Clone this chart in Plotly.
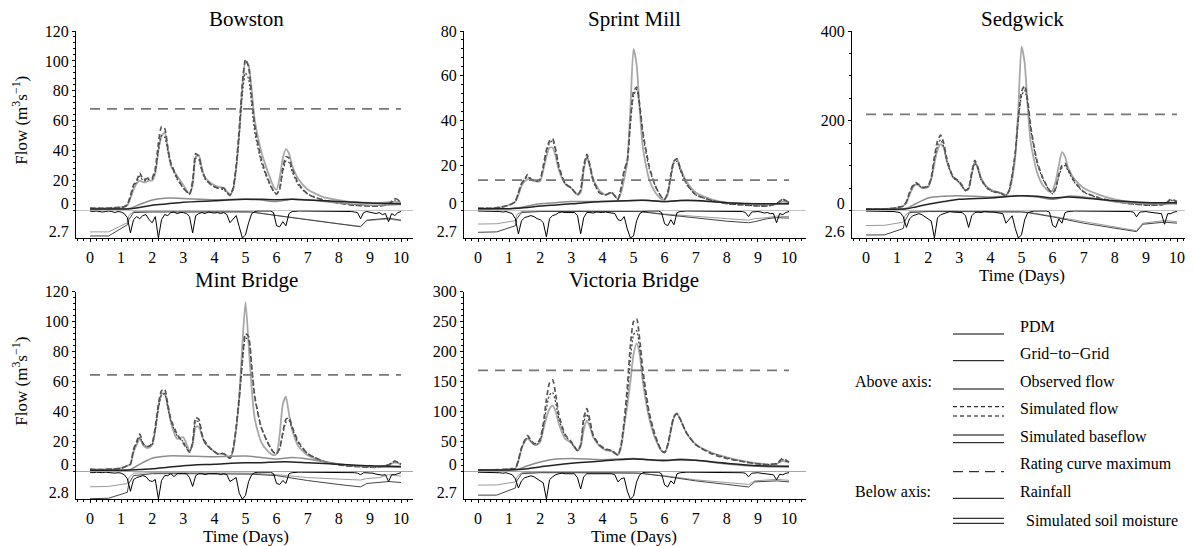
import plotly.graph_objects as go

FONT = "Liberation Serif, 'Times New Roman', Times, serif"
PAGE_W, PAGE_H = 1193, 546
OFF = 8  # default page margin of the html body
W, H = PAGE_W - OFF, PAGE_H - OFF

# ---------------- data ----------------
STATIONS = ["Bowston", "Sprint Mill", "Sedgwick", "Mint Bridge", "Victoria Bridge"]
Y_MAX = [120, 80, 400, 120, 300]
Y_TICKS = [
    [20, 40, 60, 80, 100, 120],
    [20, 40, 60, 80],
    [200, 400],
    [20, 40, 60, 80, 100, 120],
    [50, 100, 150, 200, 250, 300],
]
Y_MINOR = [4, 4, 50, 4, 10]
RAIN_MAX = [2.7, 2.7, 2.6, 2.8, 2.7]
RATING_MAX = [68, 13.5, 214, 64.5, 169]
X_TICKS = [0, 1, 2, 3, 4, 5, 6, 7, 8, 9, 10]

DAYS = [0, 0.5, 0.9, 1.1, 1.2, 1.3, 1.4, 1.5, 1.6, 1.7, 1.8, 1.9, 2.0, 2.1, 2.2, 2.3,
        2.4, 2.5, 2.6, 2.8, 3.0, 3.2, 3.3, 3.4, 3.5, 3.6, 3.7, 3.9, 4.1, 4.3, 4.5, 4.6,
        4.7, 4.8, 4.9, 5.0, 5.1, 5.2, 5.3, 5.5, 5.7, 5.9, 6.0, 6.1, 6.2, 6.3, 6.4, 6.5,
        6.7, 7.0, 7.5, 8.0, 8.5, 9.0, 9.3, 9.6, 9.8, 10.0]
BASE_DAYS = [0, 1.0, 1.3, 1.6, 2.0, 2.5, 3.0, 4.0, 5.0, 5.5, 6.0, 6.5, 7.0, 8.0, 9.0, 10.0]
SM_DAYS = [0, 0.6, 1.2, 1.25, 1.4, 2.0, 3.0, 4.0, 5.0, 5.2, 6.0, 7.0, 8.0, 8.7, 8.9, 9.3, 9.6, 10.0]
RAIN_DAYS = [round(0.1 * i, 1) for i in range(101)]

# Bowston
BOW_PDM = [1.5, 1.5, 2, 2.5, 4, 10, 17, 20, 25, 21, 21, 22, 22, 28, 45, 56, 55, 42, 32, 22, 15, 11, 20, 38, 36, 27, 22, 17, 15, 15, 10, 15, 30, 55, 85, 101, 96, 76, 56, 35, 22, 13, 11, 15, 28, 36, 35, 28, 18, 11, 7, 5, 3.5, 3, 3, 4, 8, 6]
BOW_OBS = [1.5, 1.5, 2, 2.5, 3.5, 8, 14, 18, 20, 19, 19, 20, 20, 25, 40, 50, 52, 42, 30, 23, 17, 11, 17, 36, 37, 28, 22, 18, 16, 15, 11, 14, 28, 52, 83, 100, 97, 80, 60, 40, 27, 16, 14, 22, 35, 41, 38, 30, 21, 14, 9, 7, 5.5, 5, 5, 5.5, 6, 5.5]
BOW_G2G = [1.5, 1.5, 2, 2.5, 4, 9, 16, 19, 23, 20, 20, 21, 21, 26, 40, 50, 49, 40, 31, 21, 15, 11, 18, 35, 34, 26, 21, 17, 15, 14, 10, 14, 28, 50, 78, 92, 88, 70, 52, 33, 21, 13, 11, 14, 26, 33, 32, 26, 17, 11, 7, 5, 3.5, 3, 3, 4, 7, 6]
BOW_BASE_G2G = [1, 1, 1.5, 4, 7, 8.3, 8, 7.2, 7.5, 7, 6, 7.5, 7.2, 5, 3.5, 4]
BOW_BASE_PDM = [1, 1, 1.2, 2, 3.5, 4.5, 5.5, 6.5, 7.5, 7.5, 7.2, 7.5, 7, 6, 5, 4.5]
BOW_SM_PDM = [2.5, 2.5, 1.4, 0.9, 0.2, 0.15, 0.15, 0.15, 0.15, 0.15, 0.5, 0.9, 1.3, 1.6, 0.95, 0.85, 0.75, 0.95]
BOW_SM_G2G = [2.1, 2.1, 1.2, 0.5, 0.1, 0.05, 0.05, 0.05, 0.1, 0.15, 0.5, 0.9, 1.3, 1.55, 1.0, 0.9, 0.85, 1.0]
BOW_RAIN = [0.05, 0.1, 0.05, 0.1, 0.15, 0.1, 0.05, 0.1, 0.2, 0.1,
            0.15, 0.3, 0.7, 2.2, 0.9, 0.6, 0.8, 0.5, 0.4, 0.9,
            1.2, 0.6, 2.7, 0.9, 0.4, 0.5, 0.2, 0.15, 0.3, 0.2,
            0.2, 0.3, 0.6, 2.2, 0.5, 0.3, 0.2, 0.3, 0.15, 0.2,
            0.25, 0.2, 0.3, 0.2, 0.4, 1.2, 0.9, 0.5, 1.6, 2.7,
            2.4, 1.2, 0.3, 0.1, 0.05, 0.05, 0.05, 0.1, 0.05, 0.2,
            1.5, 1.6, 1.1, 1.5, 0.3, 0.1, 0.05, 0.05, 0.05, 0.05,
            0.05, 0.1, 0.05, 0.05, 0.05, 0.05, 0.1, 0.05, 0.05, 0.05,
            0.05, 0.05, 0.1, 0.05, 0.1, 0.15, 0.2, 0.8, 0.2, 0.1,
            0.15, 0.2, 0.3, 0.2, 0.4, 0.3, 1.1, 0.3, 0.5, 0.2,
            0.1]

# Sprint Mill
SPR_PDM = [1, 1, 2, 3, 4, 8, 12, 14, 16, 14, 13.5, 13, 14, 20, 27, 31, 32, 27, 20, 12, 10, 7, 9, 20, 25, 20, 14, 8, 7, 8, 5, 10, 18, 22, 40, 53, 55, 47, 35, 20, 11, 6, 5, 8, 16, 22, 23, 19, 12, 7, 4.5, 3, 2.5, 2, 2, 3, 5, 3.5]
SPR_OBS = [1, 1, 2, 3, 4, 7, 11, 13, 14, 14, 13, 13, 13, 18, 24, 28, 28, 24, 18, 12, 10, 7, 8, 18, 24, 20, 14, 9, 7, 8, 5, 8, 14, 22, 45, 72, 65, 45, 28, 14, 8, 5, 5, 7, 15, 22, 23, 19, 13, 8, 5, 3.5, 3, 2.5, 2.5, 3, 4, 3.5]
SPR_G2G = [1, 1, 2, 3, 4, 8, 12, 14, 15, 14, 13.5, 13, 14, 19, 26, 30, 31, 26, 19, 12, 10, 7, 9, 19, 24, 19, 13, 8, 7, 8, 5, 10, 17, 22, 38, 51, 54, 46, 34, 19, 11, 6, 5, 8, 15, 21, 22, 18, 12, 7, 4.5, 3, 2.5, 2, 2, 3, 5, 3.5]
SPR_BASE_G2G = [0.8, 0.8, 1.2, 2, 3, 3.5, 4, 4, 4.5, 4.5, 4, 4.5, 4.3, 3.5, 3, 3]
SPR_BASE_PDM = [0.8, 0.8, 1, 1.3, 2, 2.5, 3, 4, 4.5, 4.5, 4, 4.5, 4.5, 3.5, 3, 3]
SPR_SM_PDM = [2.14, 2.1, 1.5, 0.8, 0.2, 0.1, 0.1, 0.1, 0.1, 0.1, 0.4, 0.75, 1.05, 1.2, 1.1, 0.8, 0.7, 0.75]
SPR_SM_G2G = [1.33, 1.3, 1.0, 0.4, 0.1, 0.05, 0.05, 0.05, 0.05, 0.1, 0.35, 0.6, 0.8, 0.95, 0.8, 0.7, 0.55, 0.6]
SPR_RAIN = [0.05, 0.05, 0.1, 0.05, 0.1, 0.1, 0.05, 0.1, 0.15, 0.1,
            0.2, 0.3, 0.8, 2.3, 1.0, 0.7, 0.6, 0.5, 0.6, 0.8,
            0.9, 1.2, 2.6, 0.8, 0.5, 0.4, 0.2, 0.15, 0.2, 0.2,
            0.15, 0.2, 0.5, 2.3, 0.7, 0.2, 0.2, 0.25, 0.15, 0.2,
            0.2, 0.15, 0.2, 0.25, 0.3, 0.9, 1.0, 0.6, 1.8, 2.7,
            2.5, 1.0, 0.3, 0.1, 0.05, 0.05, 0.05, 0.05, 0.05, 0.2,
            1.3, 1.5, 0.9, 1.4, 0.2, 0.1, 0.05, 0.05, 0.05, 0.05,
            0.05, 0.05, 0.05, 0.1, 0.05, 0.05, 0.05, 0.05, 0.05, 0.05,
            0.05, 0.05, 0.05, 0.1, 0.05, 0.1, 0.2, 0.6, 0.15, 0.1,
            0.1, 0.15, 0.25, 0.2, 0.3, 0.3, 1.2, 0.3, 0.4, 0.2,
            0.1]

# Sedgwick
SED_PDM = [3, 3, 5, 8, 10, 20, 40, 55, 62, 58, 52, 52, 55, 75, 120, 155, 168, 150, 115, 75, 65, 45, 50, 85, 112, 95, 70, 50, 42, 40, 33, 45, 80, 130, 210, 265, 278, 245, 185, 110, 70, 45, 38, 50, 80, 100, 105, 92, 65, 42, 28, 20, 15, 12, 12, 14, 25, 20]
SED_OBS = [3, 3, 5, 8, 10, 18, 35, 50, 58, 56, 50, 50, 52, 70, 105, 135, 148, 140, 110, 75, 62, 45, 48, 80, 108, 95, 72, 52, 44, 40, 35, 42, 70, 120, 230, 365, 330, 230, 150, 85, 55, 42, 45, 65, 100, 130, 120, 95, 70, 50, 35, 25, 19, 15, 14, 14, 18, 15]
SED_G2G = [3, 3, 5, 8, 10, 19, 38, 53, 60, 56, 51, 51, 54, 72, 112, 145, 158, 142, 110, 73, 63, 44, 49, 82, 106, 92, 68, 49, 41, 39, 33, 44, 78, 125, 200, 255, 268, 238, 180, 106, 68, 44, 37, 48, 76, 95, 100, 88, 63, 41, 27, 20, 15, 12, 12, 14, 23, 19]
SED_BASE_G2G = [3, 3, 5, 15, 28, 32, 33, 30, 33, 30, 25, 32, 30, 20, 15, 15]
SED_BASE_PDM = [3, 3, 4, 8, 14, 20, 25, 28, 33, 32, 28, 30, 28, 22, 18, 17]
SED_SM_PDM = [2.32, 2.3, 1.7, 1.0, 0.2, 0.1, 0.1, 0.1, 0.15, 0.2, 0.6, 1.2, 1.7, 2.0, 1.3, 1.15, 1.1, 1.2]
SED_SM_G2G = [1.42, 1.4, 1.1, 0.5, 0.1, 0.05, 0.05, 0.05, 0.1, 0.15, 0.55, 1.1, 1.6, 1.9, 1.2, 1.05, 0.95, 1.05]
SED_RAIN = [0.05, 0.05, 0.05, 0.1, 0.05, 0.1, 0.05, 0.05, 0.1, 0.1,
            0.15, 0.2, 0.6, 1.6, 0.8, 0.5, 0.4, 0.3, 0.4, 0.6,
            0.8, 1.0, 2.6, 0.7, 0.4, 0.3, 0.2, 0.1, 0.15, 0.15,
            0.15, 0.2, 0.5, 1.6, 0.5, 0.2, 0.15, 0.2, 0.1, 0.15,
            0.15, 0.15, 0.2, 0.2, 0.3, 1.2, 0.8, 0.5, 1.7, 2.6,
            2.3, 0.9, 0.2, 0.1, 0.05, 0.05, 0.05, 0.05, 0.05, 0.15,
            1.4, 1.6, 0.8, 1.2, 0.2, 0.1, 0.05, 0.05, 0.05, 0.05,
            0.05, 0.05, 0.1, 0.05, 0.05, 0.05, 0.05, 0.1, 0.05, 0.05,
            0.05, 0.05, 0.05, 0.05, 0.1, 0.1, 0.15, 0.6, 0.15, 0.1,
            0.1, 0.15, 0.2, 0.2, 0.3, 0.3, 1.3, 0.3, 0.3, 0.15,
            0.1]

# Mint Bridge
MIN_PDM = [1.5, 1.5, 2, 3, 4, 5, 15, 20, 25, 19, 17, 17, 19, 30, 45, 54, 55, 45, 35, 25, 19, 13, 20, 36, 35, 25, 20, 15, 12, 12, 9, 15, 30, 50, 75, 92, 90, 70, 50, 30, 20, 13, 12, 16, 26, 35, 36, 30, 20, 12, 7, 4.5, 3.5, 3, 3, 4.5, 7, 5]
MIN_OBS = [1.5, 1.5, 2, 3, 4, 5, 13, 18, 22, 18, 16, 16, 18, 28, 43, 52, 52, 44, 33, 22, 23, 14, 18, 30, 30, 24, 19, 15, 12, 12, 9, 14, 28, 50, 85, 113, 85, 55, 35, 20, 14, 11, 12, 25, 45, 50, 38, 28, 17, 11, 7, 5, 4, 3.5, 3.5, 4.5, 6, 5]
MIN_G2G = [1.5, 1.5, 2, 3, 4, 5, 14, 19, 23, 19, 17, 17, 18, 28, 42, 51, 52, 43, 34, 24, 20, 13, 19, 34, 33, 24, 19, 15, 12, 12, 9, 15, 29, 48, 72, 89, 88, 69, 49, 30, 20, 13, 12, 15, 25, 33, 34, 29, 19, 12, 7, 4.5, 3.5, 3, 3, 4.5, 7, 5]
MIN_BASE_G2G = [1, 1, 1.5, 5, 9, 10.5, 10.5, 10, 10.5, 9.5, 8.5, 9.5, 8.5, 5, 3.5, 3]
MIN_BASE_PDM = [1, 1, 1.2, 1.5, 2, 3, 4, 5, 6, 6, 6.5, 6.5, 6, 5, 4, 3.5]
MIN_SM_PDM = [2.75, 2.7, 2.1, 1.2, 0.4, 0.2, 0.2, 0.2, 0.2, 0.25, 0.4, 0.9, 1.3, 1.55, 1.2, 1.1, 1.0, 1.1]
MIN_SM_G2G = [1.54, 1.5, 1.2, 0.6, 0.15, 0.1, 0.1, 0.1, 0.1, 0.15, 0.3, 0.6, 0.75, 0.85, 0.7, 0.6, 0.3, 0.45]
MIN_RAIN = [0.05, 0.1, 0.05, 0.1, 0.1, 0.05, 0.1, 0.1, 0.15, 0.1,
            0.15, 0.3, 0.7, 2.0, 0.8, 0.6, 0.5, 0.4, 0.5, 0.9,
            1.0, 0.8, 2.8, 0.9, 0.4, 0.4, 0.2, 0.5, 0.2, 0.2,
            0.2, 0.2, 0.6, 1.5, 0.4, 0.2, 0.2, 0.3, 0.2, 0.2,
            0.2, 0.2, 0.3, 0.2, 0.3, 1.0, 0.8, 0.6, 2.2, 2.8,
            2.4, 1.0, 0.3, 0.1, 0.05, 0.05, 0.05, 0.1, 0.05, 0.2,
            1.2, 1.3, 0.9, 1.2, 0.2, 0.1, 0.05, 0.05, 0.05, 0.05,
            0.05, 0.05, 0.1, 0.05, 0.05, 0.05, 0.05, 0.05, 0.05, 0.05,
            0.05, 0.05, 0.05, 0.1, 0.05, 0.1, 0.15, 0.3, 0.1, 0.1,
            0.1, 0.15, 0.25, 0.3, 0.35, 0.3, 1.0, 0.3, 0.3, 0.2,
            0.1]

# Victoria Bridge
VIC_PDM = [3, 3, 4, 5, 5, 20, 40, 52, 60, 52, 47, 47, 55, 80, 120, 148, 153, 128, 95, 62, 50, 35, 45, 90, 105, 85, 62, 45, 38, 35, 28, 45, 85, 140, 210, 250, 255, 220, 170, 100, 60, 35, 32, 45, 70, 92, 97, 88, 65, 45, 30, 22, 17, 13, 12, 14, 22, 16]
VIC_OBS = [3, 3, 4, 5, 5, 18, 38, 50, 55, 50, 45, 45, 50, 70, 90, 105, 110, 100, 80, 55, 48, 35, 42, 70, 85, 75, 58, 43, 36, 34, 28, 40, 75, 110, 150, 195, 214, 195, 150, 90, 55, 35, 32, 43, 68, 90, 97, 88, 65, 46, 32, 24, 18, 14, 12, 13, 18, 15]
VIC_G2G = [3, 3, 4, 5, 5, 19, 39, 51, 58, 51, 46, 46, 52, 75, 105, 128, 132, 115, 88, 60, 49, 35, 44, 82, 96, 80, 60, 44, 37, 35, 28, 43, 80, 125, 185, 228, 235, 205, 160, 95, 58, 35, 32, 44, 69, 91, 96, 87, 65, 45, 31, 23, 17, 13, 12, 13, 20, 15]
VIC_BASE_G2G = [3, 3, 4, 10, 16, 21, 22, 20, 22, 20, 18, 21, 19, 13, 9, 8]
VIC_BASE_PDM = [3, 3, 3.5, 5, 8, 11, 14, 18, 21, 20, 19, 20, 19, 14, 10, 9]
VIC_SM_PDM = [2.3, 2.3, 1.6, 0.9, 0.2, 0.1, 0.1, 0.1, 0.1, 0.15, 0.45, 0.9, 1.25, 1.5, 1.0, 0.95, 0.9, 1.0]
VIC_SM_G2G = [1.32, 1.3, 1.0, 0.5, 0.1, 0.05, 0.05, 0.05, 0.1, 0.15, 0.4, 0.8, 1.1, 1.25, 0.9, 0.8, 0.75, 0.85]
VIC_RAIN = [0.05, 0.05, 0.1, 0.05, 0.1, 0.05, 0.05, 0.1, 0.15, 0.1,
            0.2, 0.3, 0.7, 1.6, 0.9, 0.6, 0.5, 0.4, 0.5, 0.7,
            0.9, 1.1, 2.7, 0.8, 0.5, 0.3, 0.2, 0.15, 0.2, 0.2,
            0.15, 0.2, 0.6, 1.7, 0.5, 0.2, 0.2, 0.2, 0.15, 0.2,
            0.2, 0.15, 0.2, 0.2, 0.3, 1.0, 0.7, 0.6, 1.9, 2.7,
            2.4, 1.0, 0.3, 0.1, 0.05, 0.05, 0.05, 0.05, 0.05, 0.2,
            1.3, 1.5, 0.9, 1.2, 0.2, 0.1, 0.05, 0.05, 0.05, 0.05,
            0.05, 0.05, 0.05, 0.1, 0.05, 0.05, 0.05, 0.05, 0.05, 0.05,
            0.05, 0.05, 0.05, 0.05, 0.1, 0.1, 0.15, 0.5, 0.15, 0.1,
            0.1, 0.15, 0.2, 0.2, 0.3, 0.3, 0.8, 0.25, 0.3, 0.15,
            0.1]

LEGEND_ITEMS = ["PDM", "Grid\u2212to\u2212Grid", "Observed flow", "Simulated flow",
                "Simulated baseflow", "Rating curve maximum", "Rainfall",
                "Simulated soil moisture"]

# ---------------- layout helpers ----------------
PANELS = [
    dict(obs=BOW_OBS, pdm=BOW_PDM, g2g=BOW_G2G, bg=BOW_BASE_G2G, bp=BOW_BASE_PDM,
         smp=BOW_SM_PDM, smg=BOW_SM_G2G, rain=BOW_RAIN, row=0, col=0),
    dict(obs=SPR_OBS, pdm=SPR_PDM, g2g=SPR_G2G, bg=SPR_BASE_G2G, bp=SPR_BASE_PDM,
         smp=SPR_SM_PDM, smg=SPR_SM_G2G, rain=SPR_RAIN, row=0, col=1),
    dict(obs=SED_OBS, pdm=SED_PDM, g2g=SED_G2G, bg=SED_BASE_G2G, bp=SED_BASE_PDM,
         smp=SED_SM_PDM, smg=SED_SM_G2G, rain=SED_RAIN, row=0, col=2),
    dict(obs=MIN_OBS, pdm=MIN_PDM, g2g=MIN_G2G, bg=MIN_BASE_G2G, bp=MIN_BASE_PDM,
         smp=MIN_SM_PDM, smg=MIN_SM_G2G, rain=MIN_RAIN, row=1, col=0),
    dict(obs=VIC_OBS, pdm=VIC_PDM, g2g=VIC_G2G, bg=VIC_BASE_G2G, bp=VIC_BASE_PDM,
         smp=VIC_SM_PDM, smg=VIC_SM_G2G, rain=VIC_RAIN, row=1, col=1),
]
PX_PER_DAY = 31.1
X_START = -0.45
COL_PX = [(76, 413), (464, 806), (852, PAGE_W)]
ROW_PX = [(31, 210.5, 238), (291.7, 471.7, 499.2)]
X_TITLE = [False, False, True, True, True]


def aid(letter, n):
    return letter if n == 1 else f"{letter}{n}"


def akey(letter, n):
    return f"{letter}axis" if n == 1 else f"{letter}axis{n}"


def py(px):
    return 1 - (px - OFF) / H


def pxx(px):
    return (px - OFF) / W


fig = go.Figure()
layout = {}
annotations = []
shapes = []
tickfont = dict(family=FONT, size=16, color="black")

for i, p in enumerate(PANELS):
    k = i + 1
    xid, fid, rid = aid("x", k), aid("y", 2 * k - 1), aid("y", 2 * k)
    c0, c1 = COL_PX[p["col"]]
    top, zero, bot = ROW_PX[p["row"]]

    def add(x, y, yref, **line):
        fig.add_trace(go.Scatter(x=x, y=y, xaxis=xid, yaxis=yref, mode="lines",
                                 showlegend=False, hoverinfo="skip", **line))

    # flows
    add(DAYS, p["obs"], fid, line=dict(color="#a8a8a8", width=1.8, shape="spline", smoothing=0.6))
    add(DAYS, p["g2g"], fid, line=dict(color="#3a3a3a", width=1.2, dash="2px,2px", shape="spline", smoothing=0.6))
    add(DAYS, p["pdm"], fid, line=dict(color="#555555", width=1.7, dash="5px,3px", shape="spline", smoothing=0.6))
    add(BASE_DAYS, p["bg"], fid, line=dict(color="#8c8c8c", width=1.5, shape="spline", smoothing=0.8))
    add(BASE_DAYS, p["bp"], fid, line=dict(color="#222222", width=1.5, shape="spline", smoothing=0.8))
    add([0, 10], [RATING_MAX[i], RATING_MAX[i]], fid, line=dict(color="#777777", width=1.8, dash="10px,7px"))
    # below axis
    add(SM_DAYS, p["smg"], rid, line=dict(color="#9a9a9a", width=1))
    add(SM_DAYS, p["smp"], rid, line=dict(color="#444444", width=1))
    add(RAIN_DAYS, p["rain"], rid, line=dict(color="black", width=1))

    x_end = X_START + (c1 - c0) / PX_PER_DAY
    layout[akey("x", k)] = dict(
        domain=[pxx(c0), min(1.0, pxx(c1))], anchor=rid, range=[X_START, x_end], automargin=False,
        tickmode="array", tickvals=X_TICKS, ticktext=[str(t) for t in X_TICKS],
        ticks="outside", ticklen=3, tickcolor="black", ticklabelstandoff=2,
        minor=dict(dtick=0.2, tick0=0, ticks="outside", ticklen=2, tickcolor="black"),
        showline=True, linecolor="black", linewidth=1, showgrid=False, zeroline=False,
        tickfont=tickfont,
    )
    layout[akey("y", 2 * k - 1)] = dict(
        domain=[py(zero), py(top)], anchor=xid, range=[0, Y_MAX[i]], automargin=False,
        tickmode="array", tickvals=Y_TICKS[i], ticktext=[str(t) for t in Y_TICKS[i]],
        ticks="outside", ticklen=3, tickcolor="black", ticklabelstandoff=0,
        minor=dict(dtick=Y_MINOR[i], tick0=0, ticks="outside", ticklen=2, tickcolor="black"),
        showline=True, linecolor="black", linewidth=1, showgrid=False, zeroline=False,
        tickfont=tickfont,
    )
    layout[akey("y", 2 * k)] = dict(
        domain=[py(bot), py(zero)], anchor=xid, range=[RAIN_MAX[i], 0], automargin=False,
        tickmode="array", tickvals=[0, RAIN_MAX[i]], ticktext=["0", str(RAIN_MAX[i])],
        ticks="", ticklabelstandoff=3, ticklabelshift=7,
        showline=True, linecolor="black", linewidth=1, showgrid=False, zeroline=False,
        tickfont=tickfont,
    )
    # zero line separating flow and rainfall
    shapes.append(dict(type="line", xref=f"{xid} domain", x0=0, x1=1, yref=fid, y0=0, y1=0,
                       line=dict(color="#8a8a8a", width=1.2), layer="below"))
    # panel title
    annotations.append(dict(text=STATIONS[i], xref="paper", yref="paper",
                            x=pxx(c0 + 170), y=py(top - 12), xanchor="center", yanchor="middle",
                            showarrow=False, font=dict(family=FONT, size=21, color="black")))
    if p["col"] == 0:
        annotations.append(dict(text="Flow (m<sup>3</sup>s<sup>\u22121</sup>)", xref="paper", yref="paper",
                                x=pxx(20), y=py((top + zero) / 2), xanchor="center", yanchor="middle",
                                textangle=-90, showarrow=False,
                                font=dict(family=FONT, size=17, color="black")))
    if X_TITLE[i]:
        annotations.append(dict(text="Time (Days)", xref="paper", yref="paper",
                                x=pxx(c0 + 14 + 5 * PX_PER_DAY), y=py(bot + 37), xanchor="center",
                                yanchor="middle", showarrow=False,
                                font=dict(family=FONT, size=17, color="black")))

# ---------------- custom legend ----------------
LEG_X0, LEG_X1, LEG_TX = 953, 1004, 1018
leg_rows = [
    (326.7, [(334, "solid")]),
    (353.0, [(360.7, "solid")]),
    (381.7, [(389, "solid")]),
    (408.0, [(406.7, "4px,3px"), (416.0, "4px,3px")]),
    (436.7, [(435.0, "solid"), (442.7, "solid")]),
    (464.0, [(471.7, "10px,6px")]),
    (491.0, [(498.3, "solid")]),
    (520.0, [(518.3, "solid"), (523.3, "solid")]),
]
for (ty, glyphs), label in zip(leg_rows, LEGEND_ITEMS):
    for gy, dash in glyphs:
        shapes.append(dict(type="line", xref="paper", yref="paper",
                           x0=pxx(LEG_X0), x1=pxx(LEG_X1), y0=py(gy), y1=py(gy),
                           line=dict(color="black", width=1, dash=dash)))
    tx = LEG_TX + (6 if label.startswith("Simulated soil") else 0)
    annotations.append(dict(text=label, xref="paper", yref="paper", x=pxx(tx), y=py(ty),
                            xanchor="left", yanchor="middle", showarrow=False,
                            font=dict(family=FONT, size=16, color="black")))
for label, ty in [("Above axis:", 381.7), ("Below axis:", 491.0)]:
    annotations.append(dict(text=label, xref="paper", yref="paper", x=pxx(853), y=py(ty),
                            xanchor="left", yanchor="middle", showarrow=False,
                            font=dict(family=FONT, size=16, color="black")))

fig.update_layout(
    width=W, height=H, margin=dict(l=0, r=0, t=0, b=0, autoexpand=False),
    paper_bgcolor="white", plot_bgcolor="white",
    font=dict(family=FONT, size=16, color="black"),
    showlegend=False, annotations=annotations, shapes=shapes, **layout,
)

fig.write_html("out.html")
